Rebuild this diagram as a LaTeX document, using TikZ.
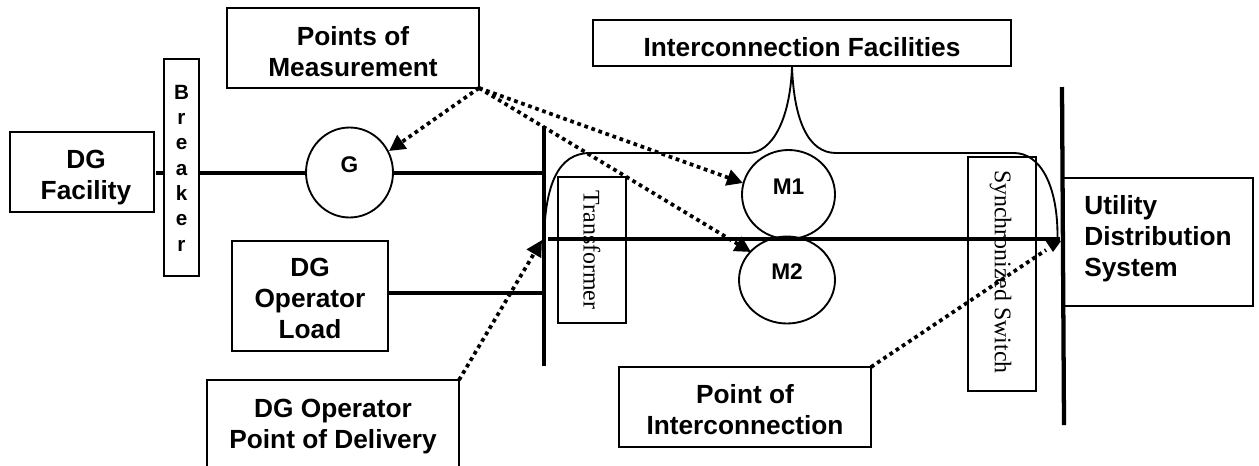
\documentclass[tikz,border=0pt]{standalone}
\usepackage{fontspec}
\setmainfont{Liberation Sans}
\newfontfamily\serifface{Liberation Serif}
\usetikzlibrary{arrows.meta,shapes.geometric}
% one drawing unit = one reference pixel = 0.75pt
\newcommand{\pxfont}[2]{\fontsize{#1pt}{#2pt}\selectfont}
\newcommand{\lift}[3][c]{\smash{\raisebox{\dimexpr-#2pt*3/4\relax}{\begin{tabular}{@{}#1@{}}#3\end{tabular}}}}
\tikzset{
  x=0.75pt,y=-0.75pt,
  lbox/.style={draw,line width=1.5pt,inner sep=0pt,outer sep=0pt,font=\bfseries\pxfont{19.7}{23.25}},
  vbox/.style={lbox,line width=1.3pt,rotate=-90,font=\serifface\pxfont{17.9}{20}},
  meter/.style={draw,line width=1.4pt,ellipse,inner sep=0pt,outer sep=0pt,font=\bfseries\pxfont{17}{20}},
  power/.style={line width=3pt},
  bus/.style={line width=3.2pt},
  thinline/.style={line width=1.4pt},
  pointer/.style={line width=2.8pt,dash pattern=on 2.8pt off 2.8pt,-{Triangle[length=12pt,width=12pt]}},
  pointerplain/.style={line width=2.8pt,dash pattern=on 2.8pt off 2.8pt},
  head/.style={fill=black,draw=none},
}
\begin{document}
\begin{tikzpicture}
\useasboundingbox (0,0) rectangle (1259,465);
\clip (0,0) rectangle (1259,465);

% boxes
\node[lbox,minimum width=252*0.75pt,minimum height=80*0.75pt] (pm) at (353,48) {\lift{14}{Points of\\Measurement}};
\node[lbox,minimum width=144*0.75pt,minimum height=80*0.75pt] (fac) at (82,171.7) {\kern6pt\lift{13}{DG\\Facility}};
\node[lbox,minimum width=35*0.75pt,minimum height=217*0.75pt,font=\bfseries\pxfont{15.5}{19}] (brk) at (181.5,167.5) {\lift{7.5}{B\\r\\e\\a\\k\\e\\r}};
\node[lbox,minimum width=156*0.75pt,minimum height=110*0.75pt] (load) at (310,296) {\lift{12}{DG\\Operator\\Load}};
\node[lbox,minimum width=252*0.75pt,minimum height=90*0.75pt] (pod) at (333,425) {\lift{9}{DG Operator\\Point of Delivery}};
\node[lbox,minimum width=252*0.75pt,minimum height=80*0.75pt] (poi) at (745,407) {\lift{12.5}{Point of\\Interconnection}};
\node[lbox,line width=1.3pt,minimum width=418*0.75pt,minimum height=46*0.75pt] (ifac) at (802,43) {\lift{14}{Interconnection Facilities}};
\node[lbox,line width=1.3pt,minimum width=190*0.75pt,minimum height=128*0.75pt] (uds) at (1158,242) {\lift[l]{4}{Utility\\Distribution\\System}};
\node[vbox,minimum width=146*0.75pt,minimum height=68*0.75pt] (tr) at (592,250) {Transformer};
\node[vbox,minimum width=234*0.75pt,minimum height=68*0.75pt] (sw) at (1002,274) {\lift{7.5}{Synchronized Switch\kern3pt}};

% circles
\node[meter,minimum width=87*0.75pt,minimum height=90*0.75pt] (g) at (349.5,172.5) {\lift{0}{G}};
\node[meter,minimum width=93*0.75pt,minimum height=89*0.75pt] (m1) at (788.5,194.5) {\lift{0}{M1}};
\node[meter,minimum width=96*0.75pt,minimum height=87*0.75pt] (m2) at (787,280) {\lift{0}{M2}};

% bus bars
\coordinate (busAtop) at (544,126);
\coordinate (busAbot) at (544,366);
\coordinate (busBtop) at (1062,87);
\coordinate (busBbot) at (1064,425);
\draw[bus] (busAtop) -- (busAbot);
\draw[bus] (busBtop) -- (busBbot);

% power lines
\coordinate (facR) at (156,172.7);
\draw[power] (facR) -- (brk.west |- facR);
\draw[power] (brk.east |- facR) -- (g.west |- facR);
\draw[power] (g.east |- facR) -- (busAtop |- facR);
\coordinate (loadY) at (388,293);
\draw[power] (load.east |- loadY) -- (busAtop |- loadY);
\coordinate (mainL) at (548,239);
\coordinate (mainR) at (1060,239);
\draw[power,line width=3.2pt] (mainL) -- (mainR);

% brace
\coordinate (cusp) at (792,67);
\coordinate (braceL) at (544,240);
\coordinate (braceR) at (1057.5,238);
\draw[thinline] (braceL) .. controls (545,185) and (558,153) .. (590,153)
  -- (748,153) .. controls (772,153) and (790,120) .. (cusp)
  .. controls (794,120) and (808,153) .. (836,153)
  -- (1014,153) .. controls (1040,153) and (1058,185) .. (braceR);

% dotted pointers
\coordinate (tipG) at (389,151);
\coordinate (tipM1) at (743,183);
\coordinate (tipM2) at (751,252);
\coordinate (tipPod) at (542,240);
\coordinate (tipPoi) at (1053,252);
\draw[pointer] (pm.south east) -- (tipG);
\draw[pointer] (pm.south east) -- (tipM1);
\draw[pointer] (pm.south east) -- (tipM2);
\draw[pointer] (pod.north east) -- (tipPod);
\draw[pointerplain] (poi.north east) -- (1046,250);
\fill[head] (1045,240) -- (1061,241) -- (tipPoi) -- cycle;
\end{tikzpicture}
\end{document}
